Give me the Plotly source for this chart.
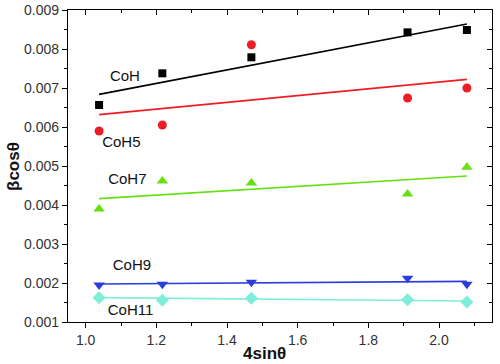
import plotly.graph_objects as go

x_vals = [1.038, 1.217, 1.469, 1.911, 2.079]

coh = [0.006564, 0.007376, 0.007787, 0.008427, 0.008487]
coh5 = [0.005897, 0.006051, 0.008110, 0.006744, 0.007000]
coh7 = [0.003897, 0.004615, 0.004564, 0.004282, 0.004970]
coh9 = [0.001949, 0.001966, 0.002017, 0.002120, 0.001966]
coh11 = [0.001624, 0.001556, 0.001607, 0.001572, 0.001513]

fit_x = [1.038, 2.079]
fit_coh = [0.006838, 0.008641]
fit_coh5 = [0.006315, 0.007223]
fit_coh7 = [0.004162, 0.004744]
fit_coh9 = [0.001974, 0.002043]
fit_coh11 = [0.001624, 0.001538]

labels = ["CoH", "CoH5", "CoH7", "CoH9", "CoH11"]
label_x = [1.111, 1.101, 1.118, 1.131, 1.127]
label_y = [0.007264, 0.005590, 0.004623, 0.002419, 0.001282]

series = [
    (coh, fit_coh, "#000000", "square", 8),
    (coh5, fit_coh5, "#ee1d23", "circle", 9),
    (coh7, fit_coh7, "#66e010", "triangle-up", 10),
    (coh9, fit_coh9, "#2a3ee0", "triangle-down", 10),
    (coh11, fit_coh11, "#7feed8", "diamond", 10),
]

fig = go.Figure()
for ys, fy, col, sym, sz in series:
    fig.add_trace(go.Scatter(x=fit_x, y=fy, mode="lines",
                             line=dict(color=col, width=1.7), showlegend=False))
    fig.add_trace(go.Scatter(x=x_vals, y=ys, mode="markers",
                             marker=dict(color=col, symbol=sym, size=sz, line=dict(width=0)),
                             showlegend=False))

fig.add_trace(go.Scatter(x=label_x, y=label_y, mode="text", text=labels,
                         textfont=dict(family="Liberation Sans, Arial", size=15, color="#111"),
                         showlegend=False))

# dummy trace for the mirrored (top/right) axes with inside ticks
fig.add_trace(go.Scatter(x=[], y=[], xaxis="x2", yaxis="y2", showlegend=False))

W, H = 500, 364
ML, MR, MT, MB = 68, 8, 10, 42
pw, ph = W - ML - MR, H - MT - MB

tickfont = dict(family="Liberation Sans, Arial", size=14, color="#333")
titlefont = dict(family="Liberation Sans, Arial", size=17, color="#111")
fig.update_layout(
    width=W, height=H,
    margin=dict(l=ML, r=MR, t=MT, b=MB),
    plot_bgcolor="white", paper_bgcolor="white",
    hovermode=False,
    xaxis=dict(range=[0.95, 2.15], tick0=1.0, dtick=0.2, tickformat=".1f", automargin=False,
               showgrid=False, zeroline=False, showline=True, linecolor="black", linewidth=1.2,
               ticks="outside", ticklen=5, tickcolor="black",
               minor=dict(dtick=0.1, tick0=1.0, ticks="outside", ticklen=3, tickcolor="black"),
               tickfont=tickfont),
    yaxis=dict(range=[0.001, 0.009], tick0=0.001, dtick=0.001, tickformat=".3f", automargin=False,
               showgrid=False, zeroline=False, showline=True, linecolor="black", linewidth=1.2,
               ticks="outside", ticklen=5, tickcolor="black",
               minor=dict(dtick=0.0005, tick0=0.001, ticks="outside", ticklen=3, tickcolor="black"),
               tickfont=tickfont),
    xaxis2=dict(range=[0.95, 2.15], overlaying="x", side="top", tick0=1.0, dtick=0.2, automargin=False,
                showgrid=False, zeroline=False, showline=True, linecolor="black", linewidth=1.2,
                ticks="inside", ticklen=5, tickcolor="black", showticklabels=False,
                minor=dict(dtick=0.1, tick0=1.0, ticks="inside", ticklen=3, tickcolor="black")),
    yaxis2=dict(range=[0.001, 0.009], overlaying="y", side="right", tick0=0.001, dtick=0.001, automargin=False,
                showgrid=False, zeroline=False, showline=True, linecolor="black", linewidth=1.2,
                ticks="inside", ticklen=5, tickcolor="black", showticklabels=False,
                minor=dict(dtick=0.0005, tick0=0.001, ticks="inside", ticklen=3, tickcolor="black")),
    annotations=[
        dict(text="<b>4sinθ</b>", x=(264 - ML) / pw, y=(H - MB - 353) / ph,
             xref="paper", yref="paper", xanchor="center", yanchor="middle",
             showarrow=False, font=titlefont),
        dict(text="<b>βcosθ</b>", x=(13 - ML) / pw, y=(H - MB - 167) / ph,
             xref="paper", yref="paper", xanchor="center", yanchor="middle",
             showarrow=False, textangle=-90, font=titlefont),
    ],
)

fig.write_html("out.html", config={"displayModeBar": False},
               post_script="document.body.style.margin='0';document.body.style.overflow='hidden';")
